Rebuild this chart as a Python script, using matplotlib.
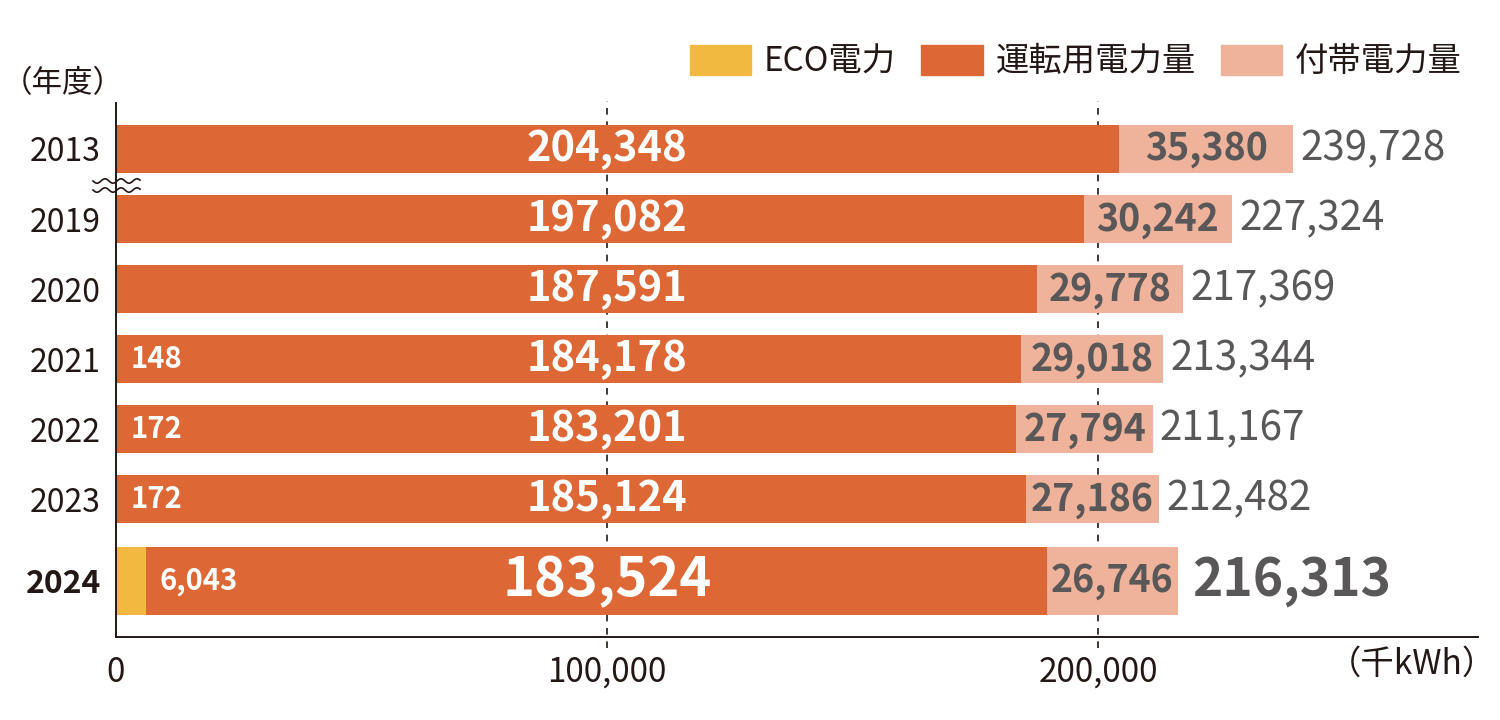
import numpy as np
from matplotlib import pyplot as plt
import matplotlib.patches as mpatches

plt.rcParams['font.family'] = ['Noto Sans CJK JP', 'DejaVu Sans']

years = ['2013', '2019', '2020', '2021', '2022', '2023', '2024']
eco = [0, 0, 0, 148, 172, 172, 6043]
operation = [204348, 197082, 187591, 184178, 183201, 185124, 183524]
auxiliary = [35380, 30242, 29778, 29018, 27794, 27186, 26746]
totals = [239728, 227324, 217369, 213344, 211167, 212482, 216313]
legend_labels = ['ECO電力', '運転用電力量', '付帯電力量']
xtick_values = [0, 100000, 200000]

C_ECO = '#F2B941'
C_OP = '#DD6836'
C_AUX = '#EFB29A'
C_TXT = '#231815'
C_GRAY = '#595757'

fig = plt.figure(figsize=(15, 7.2), dpi=100)
ax = fig.add_axes([116 / 1500, 1 - 637 / 720, (1478 - 116) / 1500, (637 - 103) / 720])

# row positions: evenly spaced, last (current) year a bit lower and thicker
n = len(years)
ypos = np.arange(n, dtype=float)
ypos[-1] += 0.17
heights = np.full(n, 0.686)
heights[-1] = 0.97

eco = np.array(eco)
operation = np.array(operation)
auxiliary = np.array(auxiliary)

ax.barh(ypos, eco, height=heights, color=C_ECO, zorder=2)
ax.barh(ypos, operation, left=eco, height=heights, color=C_OP, zorder=2)
ax.barh(ypos, auxiliary, left=eco + operation, height=heights, color=C_AUX, zorder=2)

ax.set_xlim(0, 277400)
ax.set_ylim(6.97, -0.657)

for i in range(n):
    last = i == n - 1
    # ECO label
    if eco[i] > 0:
        ax.annotate(f'{eco[i]:,}', (eco[i], ypos[i]), xytext=(14, 0), textcoords='offset pixels',
                    ha='left', va='center', color='white', fontsize=21, fontweight='bold', zorder=3)
    # operation label (centered on 100,000)
    ax.text(100000, ypos[i], f'{operation[i]:,}', ha='center', va='center', color='white',
            fontsize=39 if last else 30, fontweight='bold', zorder=3)
    # auxiliary label
    ax.text(eco[i] + operation[i] + auxiliary[i] / 2, ypos[i], f'{auxiliary[i]:,}', ha='center',
            va='center', color=C_GRAY, fontsize=27, fontweight='bold', zorder=3)
    # total
    ax.annotate(f'{totals[i]:,}', (totals[i], ypos[i]), xytext=(14 if last else 7, 0),
                textcoords='offset pixels', ha='left', va='center', color=C_GRAY,
                fontsize=37 if last else 29, fontweight='bold' if last else 'normal', zorder=3)

ax.set_yticks(ypos)
ax.set_yticklabels(years, fontsize=23, color=C_TXT)
ax.get_yticklabels()[-1].set_fontweight('bold')
ax.set_xticks(xtick_values)
ax.set_xticklabels([f'{v:,}' for v in xtick_values], fontsize=24, color=C_TXT)
ax.tick_params(axis='both', length=0)
ax.tick_params(axis='y', pad=11)
ax.tick_params(axis='x', pad=13)

for s in ['top', 'right']:
    ax.spines[s].set_visible(False)
for s in ['left', 'bottom']:
    ax.spines[s].set_color(C_TXT)
    ax.spines[s].set_linewidth(1.4)

# dashed grid lines, running a little below the baseline
for v in xtick_values[1:]:
    ax.plot([v, v], [7.12, -0.68], color=C_TXT, lw=1.2, ls=(0, (4, 4)), clip_on=False, zorder=1)

# axis break mark between 2013 and 2019
wx = np.linspace(93, 140, 80)
for yy in (181, 190):
    wy = yy + 2.2 * np.sin((wx - 93) / 16 * 2 * np.pi)
    fig.add_artist(plt.Line2D(wx / 1500, 1 - wy / 720, color=C_TXT, lw=1.2))

fig.text(2 / 1500, 1 - 84 / 720, '（年度）', ha='left', va='center', fontsize=22, color=C_TXT)
fig.text(1496 / 1500, 1 - 664 / 720, '（千kWh）', ha='right', va='center', fontsize=24, color=C_TXT)

handles = [mpatches.Patch(color=c, label=l) for c, l in zip([C_ECO, C_OP, C_AUX], legend_labels)]
leg = fig.legend(handles=handles, ncol=3, loc='center right', bbox_to_anchor=(1462 / 1500, 1 - 62 / 720),
                 frameon=False, fontsize=24, handlelength=1.85, handleheight=0.98,
                 handletextpad=0.38, columnspacing=0.75, borderaxespad=0, borderpad=0)
for t in leg.get_texts():
    t.set_color(C_TXT)

fig.savefig('out.png', dpi=100)
